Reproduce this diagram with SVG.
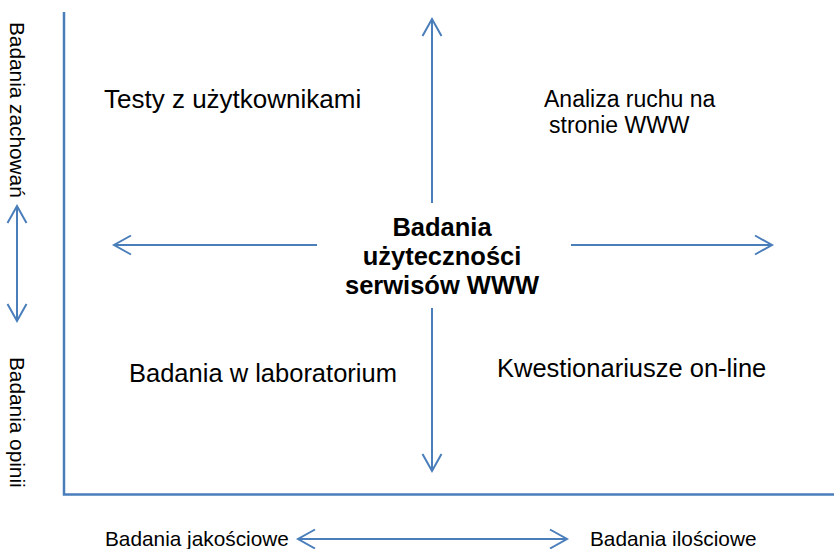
<svg xmlns="http://www.w3.org/2000/svg" width="834" height="549" viewBox="0 0 834 549">
  <style>
    .axis { stroke: #4A7EBB; stroke-width: 2.5; fill: none; }
    .conn { stroke: #4A7EBB; stroke-width: 2; fill: none; stroke-linecap: butt; }
    .head { stroke: #4A7EBB; stroke-width: 2; fill: none; stroke-linejoin: miter; }
    .t { font-family: "Liberation Sans", Arial, sans-serif; fill: #000; }
    .big { font-size: 25.5px; }
    .mid { font-size: 23px; }
    .small { font-size: 20.8px; }
    .core { font-size: 25.5px; font-weight: bold; text-anchor: middle; }
  </style>
  <rect width="834" height="549" fill="#fff"/>

  <!-- axes -->
  <g id="axes">
    <polyline class="axis" points="64,12 64,494.5 834,494.5"/>
  </g>

  <!-- connectors -->
  <g id="connectors">
    <!-- up -->
    <line class="conn" x1="432" y1="203" x2="432" y2="19"/>
    <polyline class="head" points="422.5,36 432,19 441.5,36"/>
    <!-- down -->
    <line class="conn" x1="432" y1="308" x2="432" y2="471"/>
    <polyline class="head" points="422.5,454 432,471 441.5,454"/>
    <!-- left -->
    <line class="conn" x1="317" y1="245" x2="114" y2="245"/>
    <polyline class="head" points="131,235.5 114,245 131,254.5"/>
    <!-- right -->
    <line class="conn" x1="571" y1="245" x2="772" y2="245"/>
    <polyline class="head" points="755,235.5 772,245 755,254.5"/>
    <!-- vertical scale: behaviour / opinion -->
    <line class="conn" x1="17" y1="206" x2="17" y2="321"/>
    <polyline class="head" points="7.5,223 17,206 26.5,223"/>
    <polyline class="head" points="7.5,304 17,321 26.5,304"/>
    <!-- horizontal scale: qualitative / quantitative -->
    <line class="conn" x1="298" y1="539" x2="567" y2="539"/>
    <polyline class="head" points="315,529.5 298,539 315,548.5"/>
    <polyline class="head" points="550,529.5 567,539 550,548.5"/>
  </g>

  <g id="center">
    <text class="t core" x="442" y="236">Badania</text>
    <text class="t core" x="442" y="265">użyteczności</text>
    <text class="t core" x="442" y="294">serwisów WWW</text>
  </g>

  <g id="q-top-left">
    <text class="t big" x="104" y="108" style="font-size:26px">Testy z użytkownikami</text>
  </g>

  <g id="q-top-right">
    <text class="t mid" x="544" y="107">Analiza ruchu na</text>
    <text class="t mid" x="549" y="133">stronie WWW</text>
  </g>

  <g id="q-bottom-left">
    <text class="t big" x="129" y="382">Badania w laboratorium</text>
  </g>

  <g id="q-bottom-right">
    <text class="t big" x="497" y="377">Kwestionariusze on-line</text>
  </g>

  <g id="y-labels">
    <text class="t small" transform="translate(10,22) rotate(90)">Badania zachowań</text>
    <text class="t small" transform="translate(10,357) rotate(90)">Badania opinii</text>
  </g>

  <g id="x-labels">
    <text class="t small" x="105" y="546">Badania jakościowe</text>
    <text class="t small" x="590" y="546">Badania ilościowe</text>
  </g>
</svg>
